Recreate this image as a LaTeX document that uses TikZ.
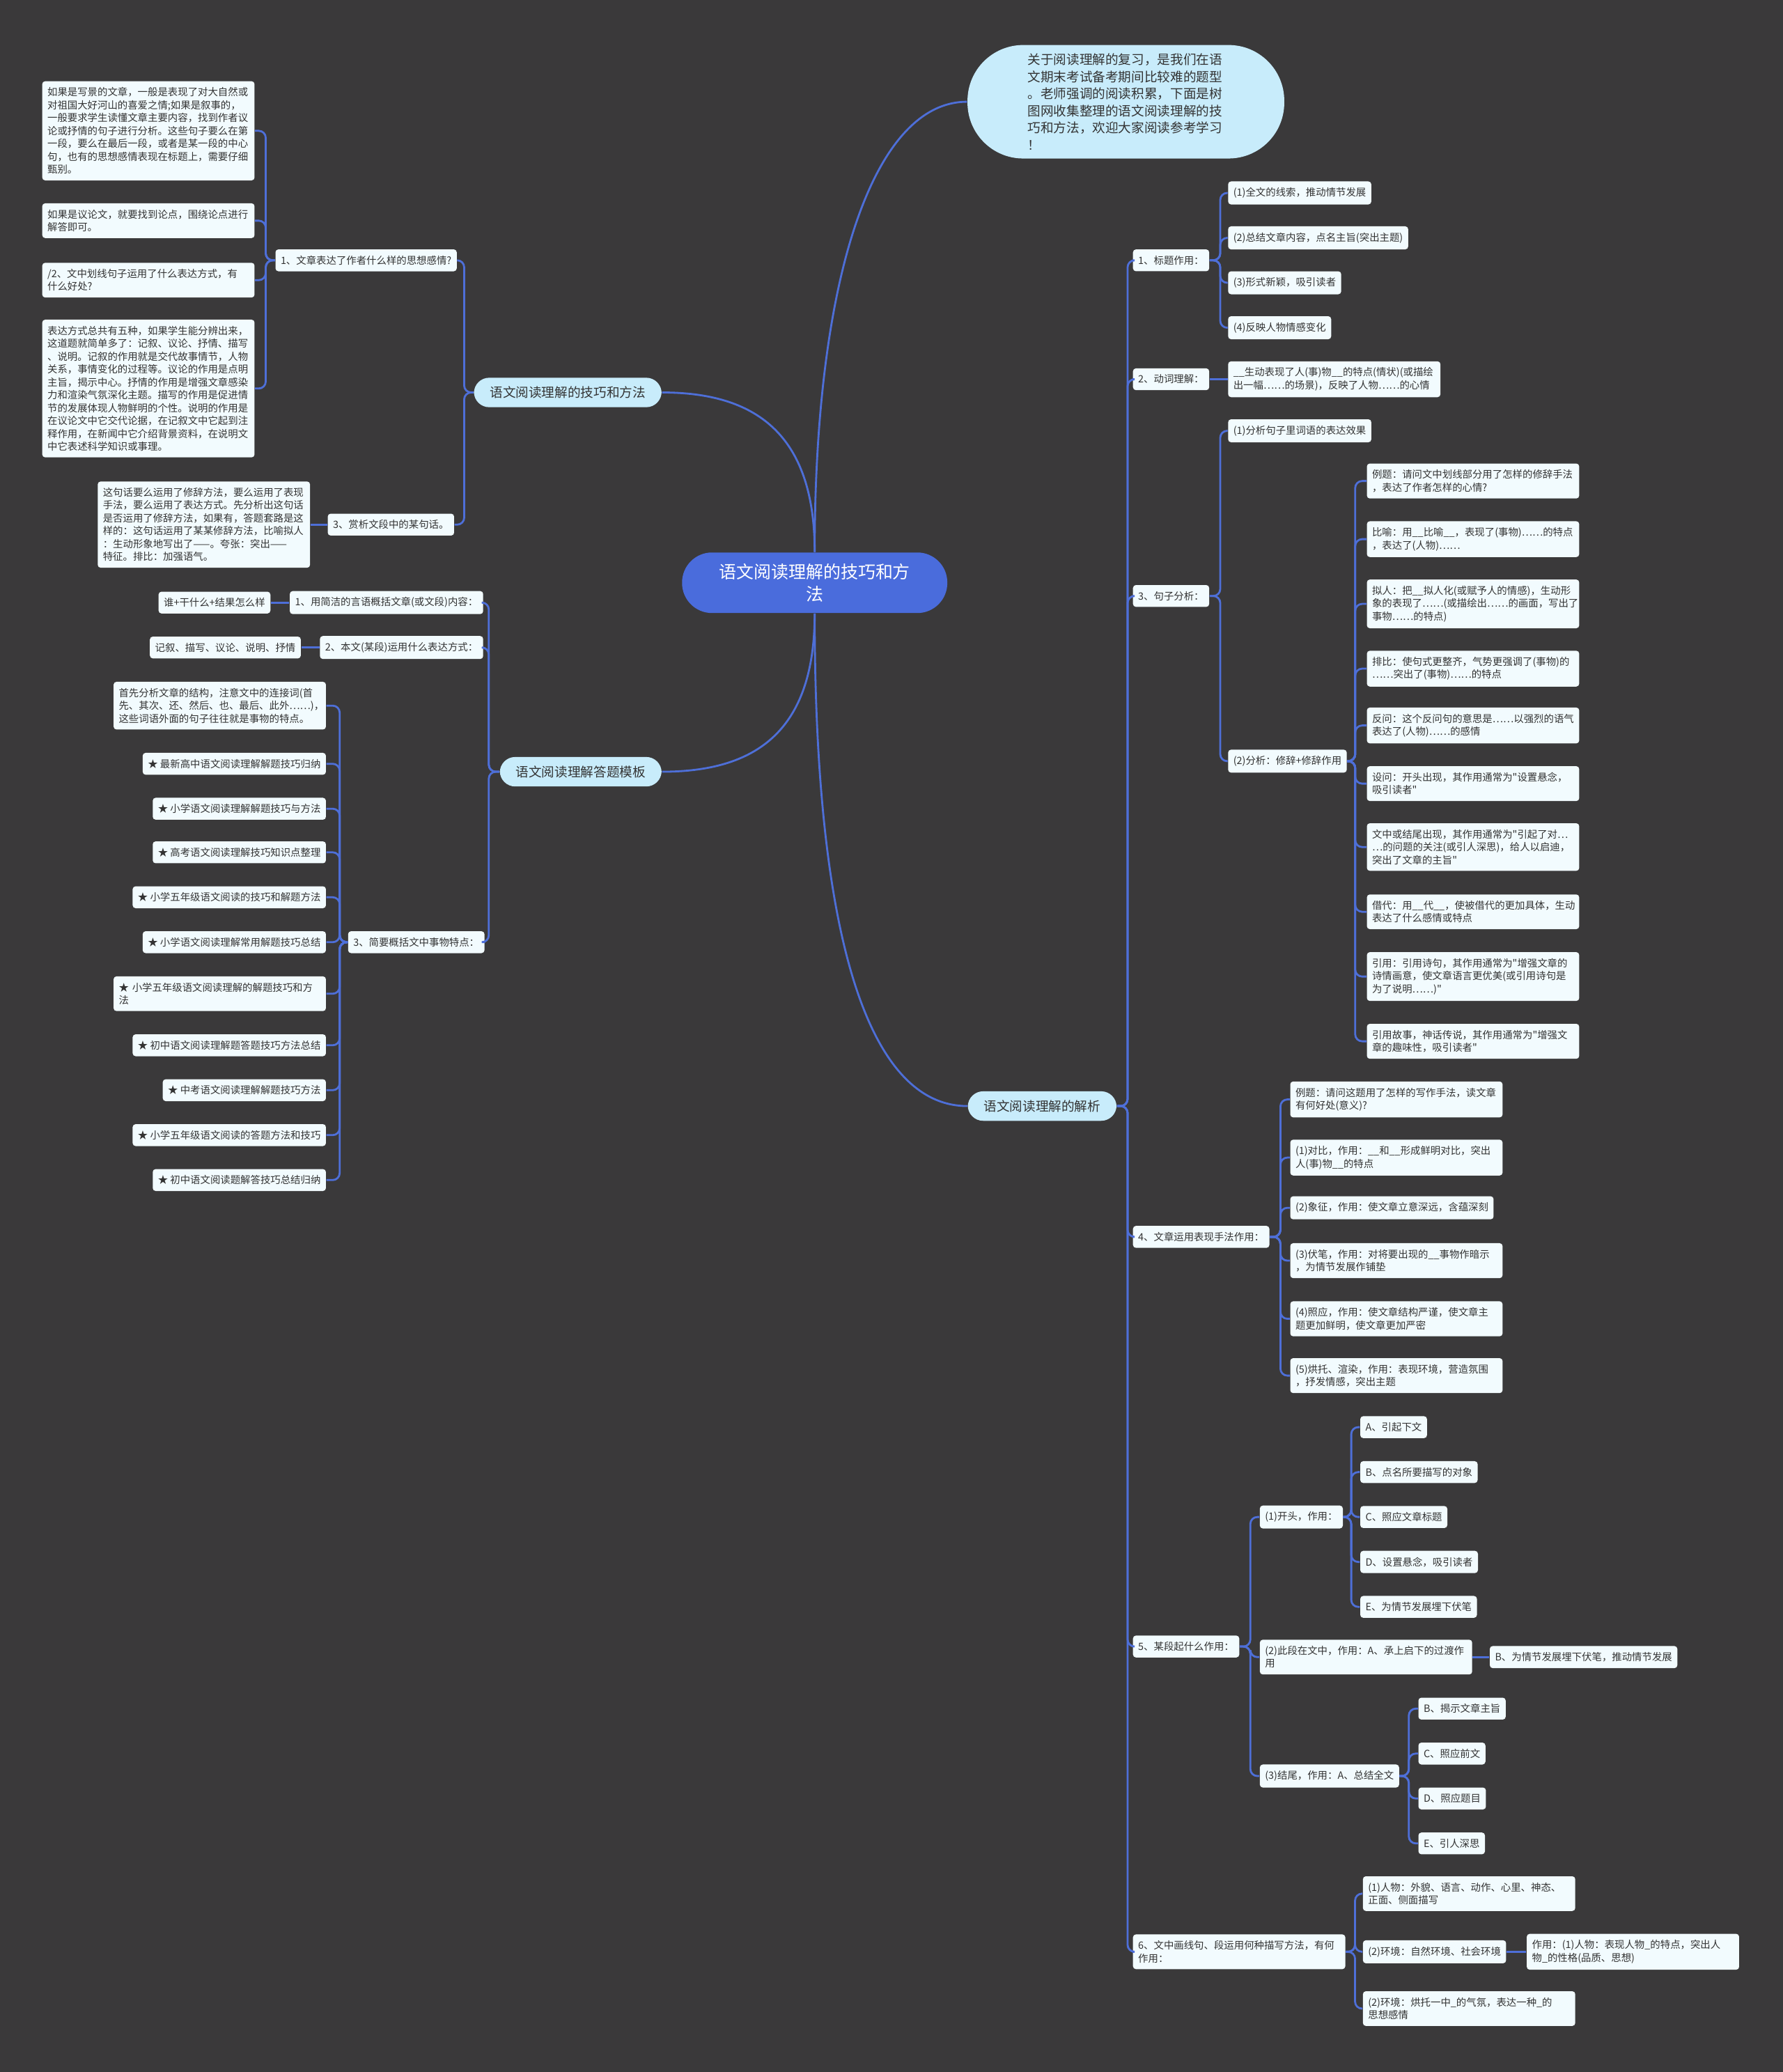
\documentclass[tikz,border=0pt]{standalone}
\usepackage{fontspec}
\setmainfont{Noto Sans CJK SC}[Ligatures=TeXOff]
\usepackage{tikz}
\usepackage{xcolor}
\definecolor{bgc}{HTML}{3A393A}
\definecolor{leafc}{HTML}{F2FBFE}
\definecolor{inkc}{HTML}{333333}
\definecolor{skyc}{HTML}{C8ECFB}
\definecolor{rootc}{HTML}{4A6CDC}
\definecolor{linkc}{HTML}{4E6FD8}
\newcommand{\smallcn}{\fontsize{4.1}{5.26}\selectfont}
\newcommand{\midcn}{\fontsize{5.3}{7}\selectfont}
\newcommand{\bigcn}{\fontsize{7.1}{9.2}\selectfont}

\begin{document}
\begin{tikzpicture}[x=0.018977cm,y=-0.018977cm,
leafbox/.style={fill=leafc,text=inkc,rounded corners=1.2pt,inner xsep=0.075cm,inner ysep=0.09cm,font=\smallcn,align=left},
widebox/.style={leafbox,text width=2.9cm},
branchbox/.style={fill=skyc,text=inkc,rounded corners=0.22cm,inner xsep=0.23cm,inner ysep=0.125cm,font=\midcn},
linkline/.style={draw=linkc,line width=0.8pt,rounded corners=0.1cm}]
\useasboundingbox (0,0) rectangle (1349,1568);
\fill[bgc] (0,0) rectangle (1349,1568);

\node[fill=rootc,text=white,rounded corners=0.43cm,minimum width=3.81cm,minimum height=0.87cm,font=\bigcn,align=center] (root) at (616.5,441) {语文阅读理解的技巧和方\\法};
\node[fill=skyc,text=inkc,rounded corners=0.8cm,minimum width=4.55cm,minimum height=1.63cm,font=\midcn,align=left,text width=2.82cm] (intro) at (852,77) {关于阅读理解的复习，是我们在语\\文期末考试备考期间比较难的题型\\。老师强调的阅读积累，下面是树\\图网收集整理的语文阅读理解的技\\巧和方法，欢迎大家阅读参考学习\\！};

\node[branchbox,anchor=east] (l1) at (501,297) {语文阅读理解的技巧和方法};
\node[leafbox,anchor=east] (a1) at (346,197) {1、文章表达了作者什么样的思想感情?};
\node[leafbox,anchor=east] (a3) at (344,397) {3、赏析文段中的某句话。};
\node[widebox,anchor=east] (n1) at (193,99) {如果是写景的文章，一般是表现了对大自然或\\对祖国大好河山的喜爱之情;如果是叙事的，\\一般要求学生读懂文章主要内容，找到作者议\\论或抒情的句子进行分析。这些句子要么在第\\一段，要么在最后一段，或者是某一段的中心\\句，也有的思想感情表现在标题上，需要仔细\\甄别。};
\node[widebox,anchor=east] (n2) at (193,167) {如果是议论文，就要找到论点，围绕论点进行\\解答即可。};
\node[widebox,anchor=east] (n3) at (193,212) {/2、文中划线句子运用了什么表达方式，有\\什么好处?};
\node[widebox,anchor=east] (n4) at (193,294) {表达方式总共有五种，如果学生能分辨出来，\\这道题就简单多了：记叙、议论、抒情、描写\\、说明。记叙的作用就是交代故事情节，人物\\关系，事情变化的过程等。议论的作用是点明\\主旨，揭示中心。抒情的作用是增强文章感染\\力和渲染气氛深化主题。描写的作用是促进情\\节的发展体现人物鲜明的个性。说明的作用是\\在议论文中它交代论据，在记叙文中它起到注\\释作用，在新闻中它介绍背景资料，在说明文\\中它表述科学知识或事理。};
\node[widebox,anchor=east] (n5) at (235,397) {这句话要么运用了修辞方法，要么运用了表现\\手法，要么运用了表达方式。先分析出这句话\\是否运用了修辞方法，如果有，答题套路是这\\样的：这句话运用了某某修辞方法，比喻拟人\\：生动形象地写出了——。夸张：突出——\\特征。排比：加强语气。};

\node[branchbox,anchor=east] (l2) at (501,584) {语文阅读理解答题模板};
\node[leafbox,anchor=east] (b1) at (366,456) {1、用简洁的言语概括文章(或文段)内容：};
\node[leafbox,anchor=east] (b1a) at (205,456) {谁+干什么+结果怎么样};
\node[leafbox,anchor=east] (b2) at (366,490) {2、本文(某段)运用什么表达方式：};
\node[leafbox,anchor=east] (b2a) at (228,490) {记叙、描写、议论、说明、抒情};
\node[leafbox,anchor=east] (b3) at (367,713) {3、简要概括文中事物特点：};
\node[widebox,anchor=east] (k1) at (247,534) {首先分析文章的结构，注意文中的连接词(首\\先、其次、还、然后、也、最后、此外……)，\\这些词语外面的句子往往就是事物的特点。};
\node[leafbox,anchor=east] (k2) at (247,578) {★ 最新高中语文阅读理解解题技巧归纳};
\node[leafbox,anchor=east] (k3) at (247,612) {★ 小学语文阅读理解解题技巧与方法};
\node[leafbox,anchor=east] (k4) at (247,645) {★ 高考语文阅读理解技巧知识点整理};
\node[leafbox,anchor=east] (k5) at (247,679) {★ 小学五年级语文阅读的技巧和解题方法};
\node[leafbox,anchor=east] (k6) at (247,713) {★ 小学语文阅读理解常用解题技巧总结};
\node[widebox,anchor=east] (k7) at (247,752) {★ 小学五年级语文阅读理解的解题技巧和方\\法};
\node[leafbox,anchor=east] (k8) at (247,791) {★ 初中语文阅读理解题答题技巧方法总结};
\node[leafbox,anchor=east] (k9) at (247,825) {★ 中考语文阅读理解解题技巧方法};
\node[leafbox,anchor=east] (k10) at (247,859) {★ 小学五年级语文阅读的答题方法和技巧};
\node[leafbox,anchor=east] (k11) at (247,893) {★ 初中语文阅读题解答技巧总结归纳};

\node[branchbox,anchor=west] (rr) at (732,837) {语文阅读理解的解析};
\node[leafbox,anchor=west] (c1) at (857,197) {1、标题作用：};
\node[leafbox,anchor=west] (c2) at (857,287) {2、动词理解：};
\node[leafbox,anchor=west] (c3) at (857,451) {3、句子分析：};
\node[leafbox,anchor=west] (c4) at (857,936) {4、文章运用表现手法作用：};
\node[leafbox,anchor=west] (c5) at (857,1246) {5、某段起什么作用：};
\node[widebox,anchor=west] (c6) at (857,1477) {6、文中画线句、段运用何种描写方法，有何\\作用：};

\node[leafbox,anchor=west] (c1a) at (929,146) {(1)全文的线索，推动情节发展};
\node[leafbox,anchor=west] (c1b) at (929,180) {(2)总结文章内容，点名主旨(突出主题)};
\node[leafbox,anchor=west] (c1c) at (929,214) {(3)形式新颖，吸引读者};
\node[leafbox,anchor=west] (c1d) at (929,248) {(4)反映人物情感变化};
\node[widebox,anchor=west] (c2a) at (929,287) {\_\_生动表现了人(事)物\_\_的特点(情状)(或描绘\\出一幅……的场景)，反映了人物……的心情};
\node[leafbox,anchor=west] (c3a) at (929,326) {(1)分析句子里词语的表达效果};
\node[leafbox,anchor=west] (c3b) at (929,576) {(2)分析：修辞+修辞作用};

\node[widebox,anchor=west] (s1) at (1034,364) {例题：请问文中划线部分用了怎样的修辞手法\\，表达了作者怎样的心情?};
\node[widebox,anchor=west] (s2) at (1034,408) {比喻：用\_\_比喻\_\_，表现了(事物)……的特点\\，表达了(人物)……};
\node[widebox,anchor=west] (s3) at (1034,457) {拟人：把\_\_拟人化(或赋予人的情感)，生动形\\象的表现了……(或描绘出……的画面，写出了\\事物……的特点)};
\node[widebox,anchor=west] (s4) at (1034,506) {排比：使句式更整齐，气势更强调了(事物)的\\……突出了(事物)……的特点};
\node[widebox,anchor=west] (s5) at (1034,549) {反问：这个反问句的意思是……以强烈的语气\\表达了(人物)……的感情};
\node[widebox,anchor=west] (s6) at (1034,593) {设问：开头出现，其作用通常为"设置悬念，\\吸引读者"};
\node[widebox,anchor=west] (s7) at (1034,641) {文中或结尾出现，其作用通常为"引起了对…\\…的问题的关注(或引人深思)，给人以启迪，\\突出了文章的主旨"};
\node[widebox,anchor=west] (s8) at (1034,690) {借代：用\_\_代\_\_，使被借代的更加具体，生动\\表达了什么感情或特点};
\node[widebox,anchor=west] (s9) at (1034,739) {引用：引用诗句，其作用通常为"增强文章的\\诗情画意，使文章语言更优美(或引用诗句是\\为了说明……)"};
\node[widebox,anchor=west] (s10) at (1034,788) {引用故事，神话传说，其作用通常为"增强文\\章的趣味性，吸引读者"};

\node[widebox,anchor=west] (u1) at (976,832) {例题：请问这题用了怎样的写作手法，读文章\\有何好处(意义)?};
\node[widebox,anchor=west] (u2) at (976,876) {(1)对比，作用：\_\_和\_\_形成鲜明对比，突出\\人(事)物\_\_的特点};
\node[leafbox,anchor=west] (u3) at (976,914) {(2)象征，作用：使文章立意深远，含蕴深刻};
\node[widebox,anchor=west] (u4) at (976,954) {(3)伏笔，作用：对将要出现的\_\_事物作暗示\\，为情节发展作铺垫};
\node[widebox,anchor=west] (u5) at (976,998) {(4)照应，作用：使文章结构严谨，使文章主\\题更加鲜明，使文章更加严密};
\node[widebox,anchor=west] (u6) at (976,1041) {(5)烘托、渲染，作用：表现环境，营造氛围\\，抒发情感，突出主题};

\node[leafbox,anchor=west] (e1) at (953,1148) {(1)开头，作用：};
\node[widebox,anchor=west] (e2) at (953,1254) {(2)此段在文中，作用：A、承上启下的过渡作\\用};
\node[leafbox,anchor=west] (e3) at (953,1344) {(3)结尾，作用：A、总结全文};
\node[leafbox,anchor=west] (h1) at (1029,1080) {A、引起下文};
\node[leafbox,anchor=west] (h2) at (1029,1114) {B、点名所要描写的对象};
\node[leafbox,anchor=west] (h3) at (1029,1148) {C、照应文章标题};
\node[leafbox,anchor=west] (h4) at (1029,1182) {D、设置悬念，吸引读者};
\node[leafbox,anchor=west] (h5) at (1029,1216) {E、为情节发展埋下伏笔};
\node[leafbox,anchor=west] (e2a) at (1127,1254) {B、为情节发展埋下伏笔，推动情节发展};
\node[leafbox,anchor=west] (m1) at (1073,1293) {B、揭示文章主旨};
\node[leafbox,anchor=west] (m2) at (1073,1327) {C、照应前文};
\node[leafbox,anchor=west] (m3) at (1073,1361) {D、照应题目};
\node[leafbox,anchor=west] (m4) at (1073,1395) {E、引人深思};

\node[widebox,anchor=west] (g1) at (1031,1433) {(1)人物：外貌、语言、动作、心里、神态、\\正面、侧面描写};
\node[leafbox,anchor=west] (g2) at (1031,1477) {(2)环境：自然环境、社会环境};
\node[widebox,anchor=west] (g3) at (1031,1520) {(2)环境：烘托一中\_的气氛，表达一种\_的\\思想感情};
\node[widebox,anchor=west] (g2a) at (1155,1477) {作用：(1)人物：表现人物\_的特点，突出人\\物\_的性格(品质、思想)};

\draw[linkline] (root.north) .. controls +(0,-210) and +(-70,0) .. (intro.west);
\draw[linkline] (root.north) .. controls +(0,-90) and +(70,0) .. (l1.east);
\draw[linkline] (root.south) .. controls +(0,90) and +(70,0) .. (l2.east);
\draw[linkline] (root.south) .. controls +(0,260) and +(-70,0) .. (rr.west);

\foreach \kid in {a1,a3} \draw[linkline] (l1.west) -- ++(-7,0) |- (\kid.east);
\foreach \kid in {n1,n2,n3,n4} \draw[linkline] (a1.west) -- ++(-7,0) |- (\kid.east);
\draw[linkline] (a3.west) -- (n5.east);
\foreach \kid in {b1,b2,b3} \draw[linkline] (l2.west) -- ++(-8,0) |- (\kid.east);
\draw[linkline] (b1.west) -- (b1a.east);
\draw[linkline] (b2.west) -- (b2a.east);
\foreach \kid in {1,...,11} \draw[linkline] (b3.west) -- ++(-6,0) |- (k\kid.east);

\foreach \kid in {c1,c2,c3,c4,c5,c6} \draw[linkline] (rr.east) -- ++(8,0) |- (\kid.west);
\foreach \kid in {c1a,c1b,c1c,c1d} \draw[linkline] (c1.east) -- ++(8,0) |- (\kid.west);
\draw[linkline] (c2.east) -- (c2a.west);
\foreach \kid in {c3a,c3b} \draw[linkline] (c3.east) -- ++(8,0) |- (\kid.west);
\foreach \kid in {1,...,10} \draw[linkline] (c3b.east) -- ++(6,0) |- (s\kid.west);
\foreach \kid in {1,...,6} \draw[linkline] (c4.east) -- ++(8,0) |- (u\kid.west);
\foreach \kid in {e1,e2,e3} \draw[linkline] (c5.east) -- ++(8,0) |- (\kid.west);
\foreach \kid in {1,...,5} \draw[linkline] (e1.east) -- ++(6,0) |- (h\kid.west);
\draw[linkline] (e2.east) -- (e2a.west);
\foreach \kid in {1,...,4} \draw[linkline] (e3.east) -- ++(7,0) |- (m\kid.west);
\foreach \kid in {g1,g2,g3} \draw[linkline] (c6.east) -- ++(7,0) |- (\kid.west);
\draw[linkline] (g2.east) -- (g2a.west);
\end{tikzpicture}
\end{document}
